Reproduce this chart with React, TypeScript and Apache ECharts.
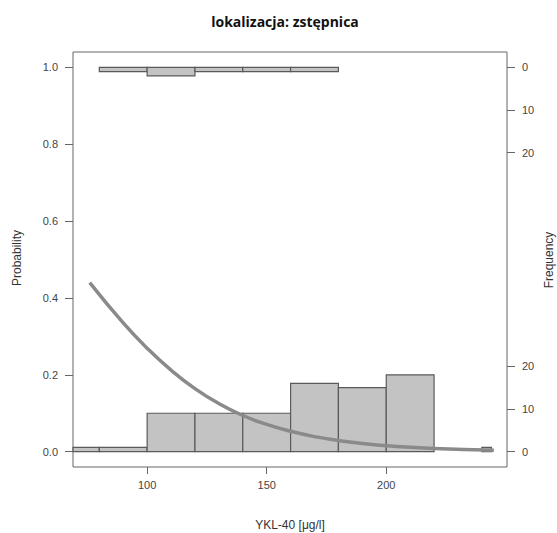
import React, { useEffect, useRef } from "react";
import * as echarts from "echarts";

// ---- data ----
const title = "lokalizacja: zstępnica";
const xName = "YKL-40 [μg/l]";
const yName = "Probability";
const y2Name = "Frequency";

const xTicks = [100, 150, 200];
const probTicks = [0, 0.2, 0.4, 0.6, 0.8, 1.0];
const freqTicks = [0, 10, 20];

// histogram of cases with outcome 0 (bottom, growing up)
const bin0Start = [60, 80, 100, 120, 140, 160, 180, 200, 240];
const bin0End = [80, 100, 120, 140, 160, 180, 200, 220, 244];
const bin0Freq = [1, 1, 9, 9, 9, 16, 15, 18, 1];

// histogram of cases with outcome 1 (top, hanging down)
const bin1Start = [80, 100, 120, 140, 160];
const bin1End = [100, 120, 140, 160, 180];
const bin1Freq = [1, 2, 1, 1, 1];

// fitted logistic curve
const curveX = [76, 90, 100, 110, 120, 130, 140, 150, 160, 170, 180, 190, 200, 220, 245];
const curveP = [0.44, 0.335, 0.269, 0.212, 0.164, 0.125, 0.094, 0.071, 0.053, 0.039, 0.029, 0.021, 0.0155, 0.0083, 0.0038];

// scale of frequency axis in probability units per count
const FREQ_K = 0.0111;

export default function App() {
  const ref = useRef<HTMLDivElement>(null);
  useEffect(() => {
    if (!ref.current) return;
    const chart = echarts.init(ref.current, null, { renderer: "svg" });

    const histData: number[][] = [];
    bin0Start.forEach((s, i) => histData.push([s, bin0End[i], bin0Freq[i], 0]));
    bin1Start.forEach((s, i) => histData.push([s, bin1End[i], bin1Freq[i], 1]));

    const freqPos: number[] = [];
    const freqLab: Record<string, string> = {};
    freqTicks.forEach((f) => {
      const b = +(f * FREQ_K).toFixed(5);
      const t = +(1 - f * FREQ_K).toFixed(5);
      freqPos.push(b, t);
      freqLab[String(b)] = String(f);
      freqLab[String(t)] = String(f);
    });

    const labelFont = { fontFamily: "Liberation Sans", fontSize: 11, color: "#444" };

    chart.setOption({
      animation: false,
      backgroundColor: "#fff",
      grid: {
        left: 73,
        right: 50,
        top: 52,
        bottom: 66,
        show: true,
        borderColor: "#666",
        borderWidth: 1,
      },
      xAxis: {
        type: "value",
        min: 69,
        max: 250.5,
        splitLine: { show: false },
        axisLine: { show: false, onZero: false },
        axisTick: { show: true, length: 7, lineStyle: { color: "#666" }, customValues: xTicks },
        axisLabel: { ...labelFont, margin: 12, customValues: xTicks },
      },
      yAxis: [
        {
          type: "value",
          min: -0.04,
          max: 1.04,
          splitLine: { show: false },
          axisLine: { show: false },
          axisTick: { show: true, length: 8, lineStyle: { color: "#666" }, customValues: probTicks },
          axisLabel: {
            ...labelFont,
            margin: 15,
            customValues: probTicks,
            formatter: (v: number) => v.toFixed(1),
          },
        },
        {
          type: "value",
          position: "right",
          min: -0.04,
          max: 1.04,
          splitLine: { show: false },
          axisLine: { show: false },
          axisTick: { show: true, length: 8, lineStyle: { color: "#666" }, customValues: freqPos },
          axisLabel: {
            ...labelFont,
            margin: 15,
            customValues: freqPos,
            formatter: (v: number) => freqLab[String(+v.toFixed(5))] ?? "",
          },
        },
      ],
      series: [
        {
          type: "custom",
          data: histData,
          z: 2,
          renderItem: (params: any, api: any) => {
            const x0 = api.value(0);
            const x1 = api.value(1);
            const f = api.value(2);
            const side = api.value(3);
            const base = side ? 1 : 0;
            const top = side ? 1 - f * FREQ_K : f * FREQ_K;
            const p1 = api.coord([x0, base]);
            const p2 = api.coord([x1, top]);
            const rect = echarts.graphic.clipRectByRect(
              {
                x: p1[0],
                y: Math.min(p1[1], p2[1]),
                width: p2[0] - p1[0],
                height: Math.abs(p2[1] - p1[1]),
              },
              params.coordSys
            );
            if (!rect) return null;
            return {
              type: "rect",
              shape: rect,
              style: { fill: "#c3c3c3", stroke: "#5a5a5a", lineWidth: 1.2 },
            };
          },
        },
        {
          type: "line",
          data: curveX.map((x, i) => [x, curveP[i]]),
          smooth: true,
          showSymbol: false,
          z: 3,
          lineStyle: { color: "#8a8a8a", width: 3.5 },
        },
      ],
      graphic: [
        {
          type: "text",
          x: 285,
          y: 21,
          style: {
            text: title,
            font: "bold 14px 'Open Sans'",
            fill: "#111",
            align: "center",
            verticalAlign: "middle",
          },
        },
        {
          type: "text",
          x: 290,
          y: 525,
          style: {
            text: xName,
            font: "12px 'Liberation Sans'",
            fill: "#333",
            align: "center",
            verticalAlign: "middle",
          },
        },
        {
          type: "text",
          x: 17,
          y: 258,
          rotation: Math.PI / 2,
          style: {
            text: yName,
            font: "12px 'Liberation Sans'",
            fill: "#333",
            align: "center",
            verticalAlign: "middle",
          },
        },
        {
          type: "text",
          x: 549,
          y: 260,
          rotation: Math.PI / 2,
          style: {
            text: y2Name,
            font: "12px 'Liberation Sans'",
            fill: "#333",
            align: "center",
            verticalAlign: "middle",
          },
        },
      ],
    });
    return () => chart.dispose();
  }, []);
  return <div ref={ref} style={{ width: 557, height: 533, position: "absolute", left: 0, top: 0 }} />;
}
